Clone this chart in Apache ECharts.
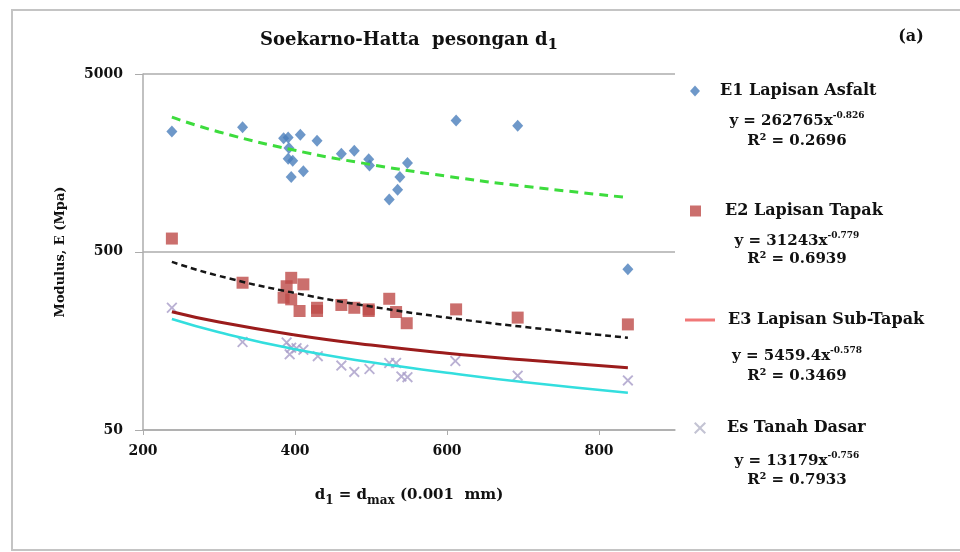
<!DOCTYPE html>
<html>
<head>
<meta charset="utf-8">
<script src="https://cdn.jsdelivr.net/npm/echarts@6/dist/echarts.min.js"></script>
<style>html,body{margin:0;padding:0;background:#fff}#c{width:960px;height:552px}</style>
</head>
<body>
<div id="c"></div>
<script>
// ---- data ----
const xTickLabels = [200, 400, 600, 800];
const yTickLabels = [50, 500, 5000];

const e1X = [238, 331, 385, 391, 407, 429, 392, 391, 397, 395, 411, 461, 478, 497, 498, 524, 535, 538, 548, 612, 693, 838];
const e1Y = [2380, 2510, 2180, 2200, 2275, 2110, 1920, 1670, 1630, 1320, 1420, 1780, 1850, 1660, 1530, 985, 1120, 1320, 1580, 2740, 2560, 400];

const e2X = [238, 331, 395, 389, 411, 385, 395, 406, 429, 429, 461, 478, 497, 497, 524, 533, 547, 612, 693, 838];
const e2Y = [595, 336, 358, 321, 329, 277, 271, 233, 243, 233, 252, 243, 238, 233, 273, 230, 199, 238, 214, 196];

const esX = [238, 331, 389, 395, 393, 402, 411, 430, 461, 478, 498, 524, 533, 540, 548, 611, 693, 838];
const esY = [243, 156, 155, 145, 133, 144, 141, 130, 115, 106, 110, 119, 119, 100, 99, 122, 101, 95];

// trend lines
const trendX = [238, 300, 400, 500, 600, 700, 838];
const trendE1 = [2862, 2363, 1863, 1550, 1333, 1174, 1011];
const trendE2 = [440, 367, 294, 247, 214, 190, 165];
const trendE3 = [231, 202, 171, 150, 135, 124, 112];
const trendEs = [210, 177, 142, 120, 105, 93, 81];

const seriesNames = ['E1 Lapisan Asfalt', 'E2 Lapisan Tapak', 'E3 Lapisan Sub-Tapak', 'Es Tanah Dasar'];
const equations = [
  ['y = 262765x', '-0.826', 'R\u00B2 = 0.2696'],
  ['y = 31243x', '-0.779', 'R\u00B2 = 0.6939'],
  ['y = 5459.4x', '-0.578', 'R\u00B2 = 0.3469'],
  ['y = 13179x', '-0.756', 'R\u00B2 = 0.7933']
];

// ---- styling ----
const FONT = "'DejaVu Serif', 'Liberation Serif', serif";
const TXT = '#111';
const GRAY = '#acacac';
const XPATH = 'path://M0,1.2L1.2,0L5,3.8L8.8,0L10,1.2L6.2,5L10,8.8L8.8,10L5,6.2L1.2,10L0,8.8L3.8,5Z';

function zip(a, b) { return a.map((v, i) => [v, b[i]]); }

function nearestTick(v) {
  return yTickLabels.reduce((a, b) => Math.abs(Math.log(b / v)) < Math.abs(Math.log(a / v)) ? b : a);
}

function legendFor(idx, left, top, icon, w, h, pad, color) {
  const item = { name: seriesNames[idx], icon: icon };
  if (color) item.itemStyle = { color: color };
  return {
    data: [item], left: left, top: top, orient: 'vertical', padding: 0,
    itemWidth: w, itemHeight: h, selectedMode: false,
    textStyle: { fontFamily: FONT, fontSize: 16, fontWeight: 'bold', color: TXT, lineHeight: 20, padding: [0, 0, 0, pad] }
  };
}

const eqRich = {
  b: { fontFamily: FONT, fontSize: 15, fontWeight: 'bold', fill: TXT, lineHeight: 20, verticalAlign: 'middle' },
  s: { fontFamily: FONT, fontSize: 9, fontWeight: 'bold', fill: TXT, lineHeight: 14, verticalAlign: 'top' }
};
const eqY = [[121, 141], [241, 259], [356, 376], [461, 480]];
const eqGraphics = [];
equations.forEach((e, i) => {
  eqGraphics.push({ type: 'text', x: 797, y: eqY[i][0],
    style: { text: '{b|' + e[0] + '}{s|' + e[1] + '}', rich: eqRich, align: 'center', verticalAlign: 'middle' } });
  eqGraphics.push({ type: 'text', x: 797, y: eqY[i][1],
    style: { text: e[2], fontFamily: FONT, fontSize: 15, fontWeight: 'bold', fill: TXT, align: 'center', verticalAlign: 'middle' } });
});

const subRich = (size) => ({
  t: { fontFamily: FONT, fontSize: size, fontWeight: 'bold', color: TXT, lineHeight: size + 8, verticalAlign: 'middle' },
  s: { fontFamily: FONT, fontSize: size - 3, fontWeight: 'bold', color: TXT, lineHeight: size - 1, verticalAlign: 'bottom' }
});

const chart = echarts.init(document.getElementById('c'), null, { renderer: 'canvas' });
chart.setOption({
  animation: false,
  backgroundColor: '#fff',
  title: {
    text: '{t|Soekarno-Hatta  pesongan d}{s|1}',
    left: 404, top: 22, textAlign: 'center',
    textStyle: { rich: subRich(18) }
  },
  legend: [
    legendFor(0, 690, 81, 'diamond', 10, 11, 15),
    legendFor(1, 690, 201, 'rect', 11, 11, 19),
    legendFor(2, 685, 310, 'path://M0,0H30V3H0Z', 30, 3, 8, '#f07878'),
    legendFor(3, 694, 418, XPATH, 12, 12, 16, '#b4b4c8')
  ],
  grid: { left: 143, right: 285, top: 74, bottom: 122 },
  xAxis: {
    type: 'value', min: 200, max: 900, interval: 200,
    name: '{t|d}{s|1}{t| = d}{s|max}{t| (0.001  mm)}',
    nameLocation: 'middle', nameGap: 54,
    nameTextStyle: { rich: subRich(15) },
    axisLine: { lineStyle: { color: GRAY, width: 1.5 } },
    axisTick: { show: true, length: 5, customValues: xTickLabels, lineStyle: { color: GRAY } },
    axisLabel: {
      margin: 14, fontFamily: FONT, fontSize: 14, fontWeight: 'bold', color: TXT,
      formatter: v => (xTickLabels.indexOf(v) >= 0 ? String(v) : '')
    },
    splitLine: { show: false }
  },
  yAxis: {
    type: 'log', logBase: 10, min: yTickLabels[0], max: yTickLabels[2], interval: 1,
    name: 'Modulus, E (Mpa)', nameLocation: 'middle', nameGap: 76,
    nameTextStyle: { fontFamily: FONT, fontSize: 13, fontWeight: 'bold', color: TXT },
    axisLine: { show: true, lineStyle: { color: GRAY, width: 1.5 } },
    axisTick: { show: true, length: 8, lineStyle: { color: GRAY } },
    axisLabel: {
      margin: 20, fontFamily: FONT, fontSize: 14, fontWeight: 'bold', color: TXT,
      formatter: v => String(nearestTick(v))
    },
    splitLine: { show: true, lineStyle: { color: GRAY, width: 1.5 } }
  },
  series: [
    { name: seriesNames[0], type: 'scatter', data: zip(e1X, e1Y), symbol: 'diamond', symbolSize: [11, 12],
      itemStyle: { color: '#4a7ebb' }, z: 2 },
    { name: seriesNames[1], type: 'scatter', data: zip(e2X, e2Y), symbol: 'rect', symbolSize: 12,
      itemStyle: { color: '#be4b48' }, z: 2 },
    { name: seriesNames[3], type: 'scatter', data: zip(esX, esY), symbol: XPATH, symbolSize: 11,
      itemStyle: { color: '#a89cc8' }, z: 2 },
    { name: seriesNames[2], type: 'line', data: zip(trendX, trendE3), smooth: true, symbol: 'none',
      lineStyle: { color: '#9b1c1c', width: 3 }, z: 4 },
    { name: 'E1 trend', type: 'line', data: zip(trendX, trendE1), smooth: true, symbol: 'none',
      lineStyle: { color: '#3ddc3d', width: 3, type: [9, 6] }, z: 4 },
    { name: 'E2 trend', type: 'line', data: zip(trendX, trendE2), smooth: true, symbol: 'none',
      lineStyle: { color: '#151515', width: 2.5, type: [6, 4] }, z: 4 },
    { name: 'Es trend', type: 'line', data: zip(trendX, trendEs), smooth: true, symbol: 'none',
      lineStyle: { color: '#33dede', width: 2.5 }, z: 4 }
  ],
  graphic: [
    { type: 'rect', shape: { x: 12, y: 10, width: 960, height: 540 }, style: { fill: 'none', stroke: '#c4c4c4', lineWidth: 2 }, z: -10 },
    { type: 'text', x: 911, y: 37, style: { text: '(a)', fontFamily: FONT, fontSize: 16, fontWeight: 'bold', fill: TXT, align: 'center', verticalAlign: 'middle' } }
  ].concat(eqGraphics)
});
</script>
</body>
</html>
